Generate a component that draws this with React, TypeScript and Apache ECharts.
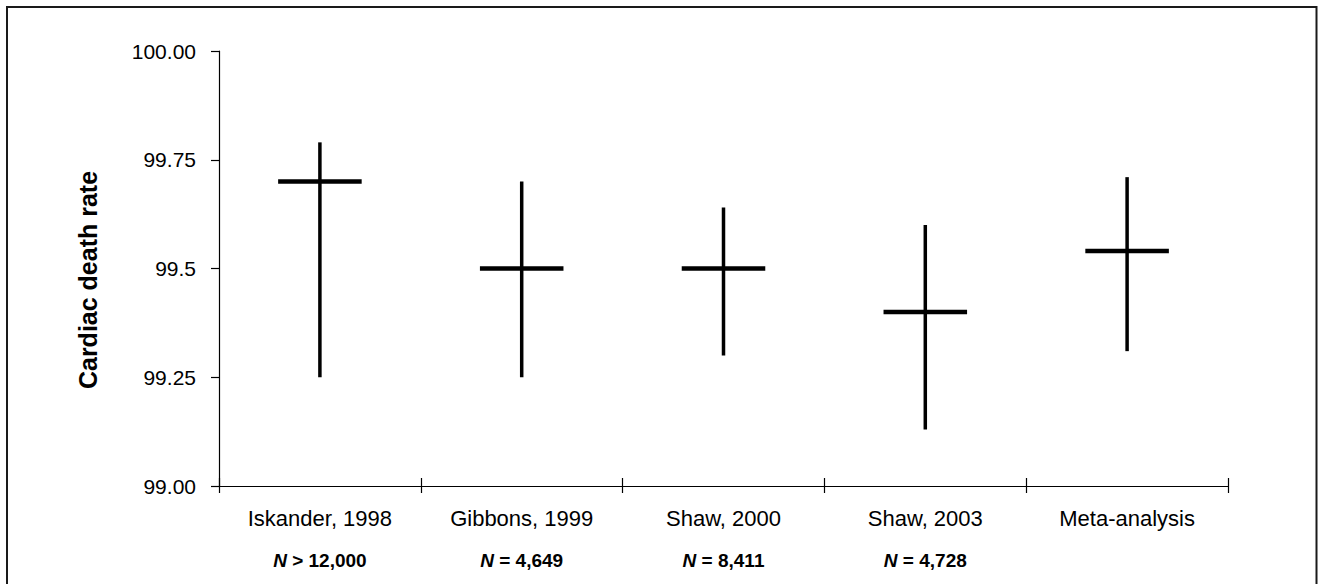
import React, { useEffect, useRef } from "react";
import * as echarts from "echarts";

const categories = ["Iskander, 1998", "Gibbons, 1999", "Shaw, 2000", "Shaw, 2003", "Meta-analysis"];
const nLabels = ["> 12,000", "= 4,649", "= 8,411", "= 4,728", ""];
const means = [99.7, 99.5, 99.5, 99.4, 99.54];
const lowers = [99.25, 99.25, 99.3, 99.13, 99.31];
const uppers = [99.79, 99.7, 99.64, 99.6, 99.71];
const yTickValues = [99, 99.25, 99.5, 99.75, 100];
const yTickLabels = ["99.00", "99.25", "99.5", "99.75", "100.00"];
const yTitle = "Cardiac death rate";

const FONT = "'Liberation Sans', Arial, Helvetica, sans-serif";

export default function App() {
  const ref = useRef<HTMLDivElement>(null);
  useEffect(() => {
    if (!ref.current) return;
    const chart = echarts.init(ref.current, null, { renderer: "svg" });
    const data = categories.map((_, i) => [i, lowers[i], means[i], uppers[i]]);
    chart.setOption({
      animation: false,
      backgroundColor: "#ffffff",
      textStyle: { fontFamily: FONT },
      grid: { left: 219, right: 91, top: 51, bottom: 98, containLabel: false, outerBoundsMode: "none" },
      xAxis: [
        {
          type: "category",
          data: categories,
          position: "bottom",
          axisLine: { show: true, lineStyle: { color: "#000", width: 1.2 } },
          axisTick: { show: true, inside: false, length: 7, alignWithLabel: false, lineStyle: { color: "#000", width: 1.2 } },
          splitLine: { show: false },
          axisLabel: {
            interval: 0,
            margin: 11,
            color: "#000",
            formatter: (v: string, i: number) => {
              const n = nLabels[i];
              return n ? `{c|${v}}\n{ni|N}{nb| ${n}}` : `{c|${v}}`;
            },
            rich: {
              c: { fontFamily: FONT, fontSize: 22, lineHeight: 42, color: "#000" },
              ni: { fontFamily: FONT, fontSize: 19, fontWeight: "bold", fontStyle: "italic", lineHeight: 42, color: "#000" },
              nb: { fontFamily: FONT, fontSize: 19, fontWeight: "bold", lineHeight: 42, color: "#000" },
            },
          },
        },
        {
          type: "category",
          data: categories,
          position: "bottom",
          axisLine: { show: false },
          axisTick: { show: true, inside: true, length: 8, lineStyle: { color: "#000", width: 1.2 } },
          axisLabel: { show: false },
          splitLine: { show: false },
        },
      ],
      yAxis: {
        type: "value",
        min: 99,
        max: 100,
        interval: 0.25,
        axisLine: { show: true, lineStyle: { color: "#000", width: 1.2 } },
        axisTick: { show: true, inside: false, length: 8, lineStyle: { color: "#000", width: 1.2 } },
        splitLine: { show: false },
        axisLabel: {
          margin: 23,
          color: "#000",
          fontFamily: FONT,
          fontSize: 21,
          formatter: (v: number) => {
            const idx = yTickValues.findIndex((t) => Math.abs(t - v) < 1e-6);
            return idx >= 0 ? yTickLabels[idx] : "";
          },
        },
      },
      graphic: [
        {
          type: "rect",
          shape: { x: 7, y: 7, width: 1309.5, height: 620 },
          style: { fill: "none", stroke: "#1a1a1a", lineWidth: 2 },
          silent: true,
        },
        {
          type: "text",
          x: 88,
          y: 280,
          rotation: Math.PI / 2,
          style: {
            text: yTitle,
            fontFamily: FONT,
            fontSize: 25,
            fontWeight: "bold",
            fill: "#000",
            textAlign: "center",
            textVerticalAlign: "middle",
          },
        },
      ],
      series: [
        {
          type: "custom",
          xAxisIndex: 0,
          yAxisIndex: 0,
          data,
          encode: { x: 0, y: [1, 2, 3] },
          renderItem: (params: any, api: any) => {
            const x = api.value(0);
            const lo = api.coord([x, api.value(1)]);
            const m = api.coord([x, api.value(2)]);
            const hi = api.coord([x, api.value(3)]);
            const bandW = api.size([1, 0])[0];
            const half = bandW * 0.207;
            return {
              type: "group",
              children: [
                {
                  type: "line",
                  shape: { x1: lo[0], y1: lo[1], x2: hi[0], y2: hi[1] },
                  style: { stroke: "#000", lineWidth: 3.5 },
                },
                {
                  type: "line",
                  shape: { x1: m[0] - half, y1: m[1], x2: m[0] + half, y2: m[1] },
                  style: { stroke: "#000", lineWidth: 4.5 },
                },
              ],
            };
          },
        },
      ],
    });
    return () => chart.dispose();
  }, []);
  return (
    <div
      ref={ref}
      style={{ position: "fixed", left: 0, top: 0, width: 1319, height: 584, background: "#fff" }}
    />
  );
}
